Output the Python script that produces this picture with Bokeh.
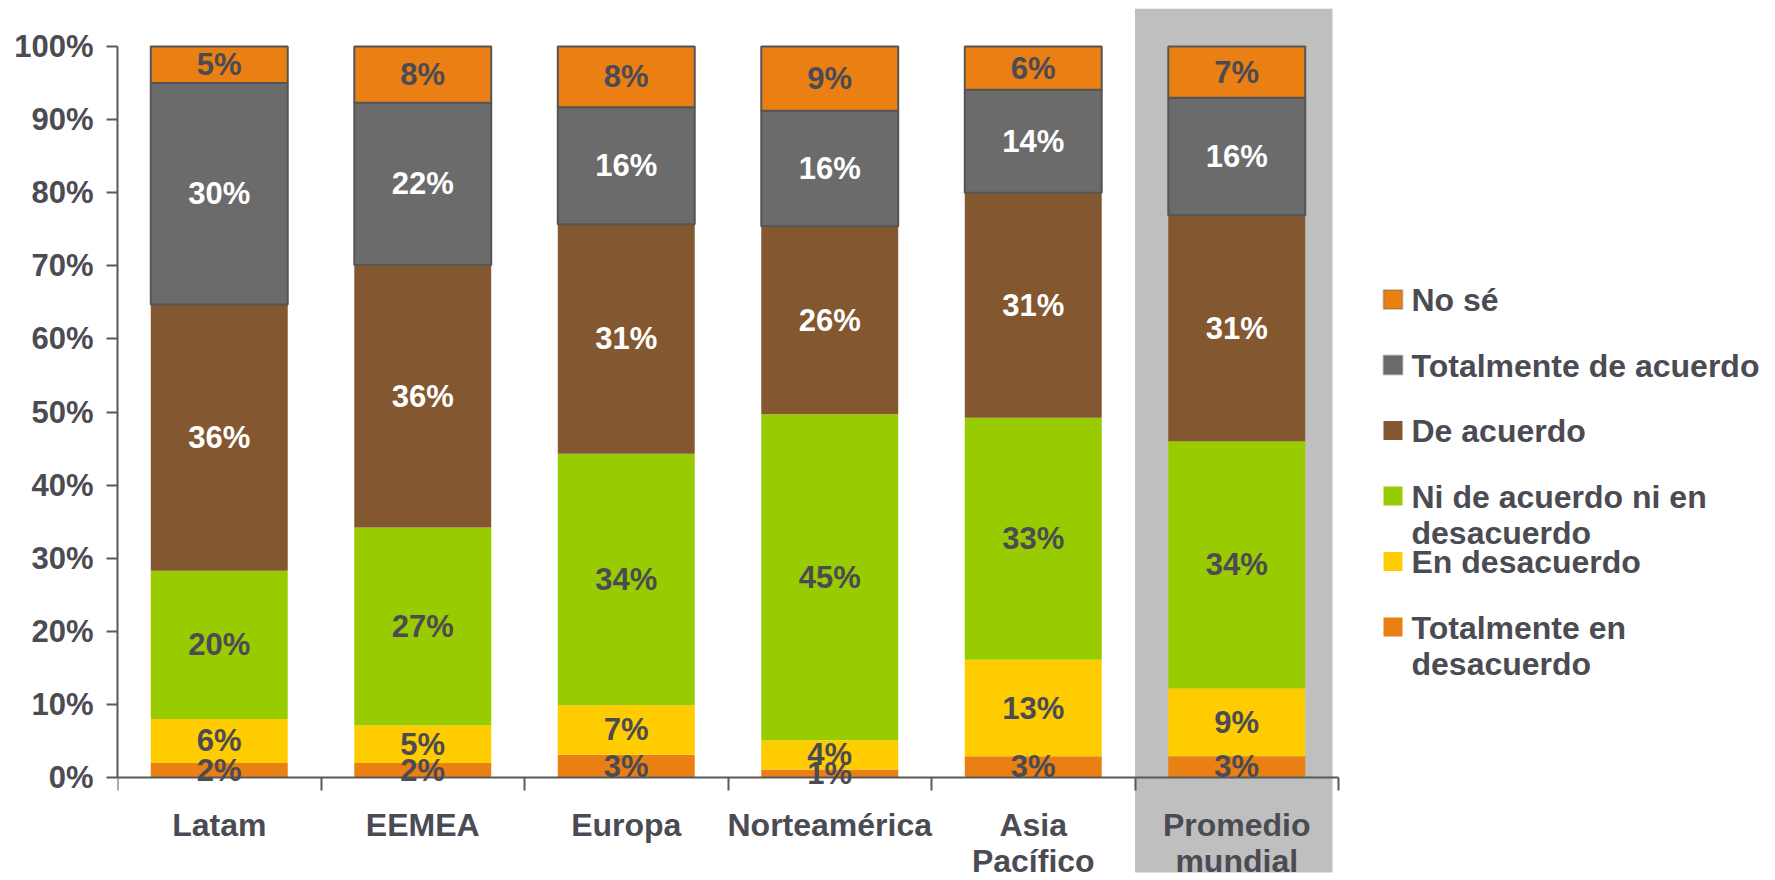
from bokeh.plotting import figure
from bokeh.models import (Range1d, FixedTicker, PrintfTickFormatter, ColumnDataSource,
                          LabelSet, BoxAnnotation, Label, LinearAxis)
from bokeh.core.properties import value
from bokeh.embed import file_html
from bokeh.resources import INLINE

# ---------------- data ----------------
categories = ["Latam", "EEMEA", "Europa", "Norteamérica", "Asia\nPacífico", "Promedio\nmundial"]
series = ["Totalmente en desacuerdo", "En desacuerdo", "Ni de acuerdo ni en desacuerdo",
          "De acuerdo", "Totalmente de acuerdo", "No sé"]
legend_labels = ["Totalmente en\ndesacuerdo", "En desacuerdo", "Ni de acuerdo ni en\ndesacuerdo",
                 "De acuerdo", "Totalmente de acuerdo", "No sé"]
totalmente_en_desacuerdo = [2.0, 2.0, 3.1, 1.1, 2.9, 2.9]
en_desacuerdo = [6.0, 5.1, 6.8, 4.0, 13.2, 9.3]
ni_de_acuerdo_ni_en_desacuerdo = [20.3, 27.1, 34.4, 44.6, 33.1, 33.8]
de_acuerdo = [36.4, 35.9, 31.4, 25.7, 30.8, 30.9]
totalmente_de_acuerdo = [30.3, 22.2, 16.0, 15.8, 14.1, 16.1]
no_se = [5.0, 7.7, 8.3, 8.8, 5.9, 7.0]
y_ticks = [0, 10, 20, 30, 40, 50, 60, 70, 80, 90, 100]
highlight_category = "Promedio\nmundial"

values = [totalmente_en_desacuerdo, en_desacuerdo, ni_de_acuerdo_ni_en_desacuerdo,
          de_acuerdo, totalmente_de_acuerdo, no_se]

# ---------------- styles ----------------
colors = ["#EA7F14", "#FFCC00", "#99CC00", "#83572F", "#6B6B6B", "#EA7F14"]
outlines = [None, None, None, None, "#555555", "#555555"]
text_dark = "#4B4B53"
label_colors = [text_dark, text_dark, text_dark, "#FFFFFF", "#FFFFFF", text_dark]
FONT = "Liberation Sans"

W, H = 1775, 880
# layout in page pixels
F_LEFT, F_TOP = 117, 8
AX_RIGHT = 1338          # right end of the category axis
ZERO_Y, HUNDRED_Y = 777, 46
px_x = (AX_RIGHT - F_LEFT) / len(categories)
px_y = (ZERO_Y - HUNDRED_Y) / 100.0
def dx(rx):
    return (rx - F_LEFT) / px_x
def dy(ry):
    return (ZERO_Y - ry) / px_y

p = figure(width=W, height=H, x_range=Range1d(0, dx(W)), y_range=Range1d(dy(H), dy(F_TOP)),
           output_backend="svg", toolbar_location=None, x_axis_location=None,
           y_axis_location=None,
           min_border_left=F_LEFT, min_border_right=0, min_border_top=F_TOP, min_border_bottom=0)
p.outline_line_color = None
p.grid.grid_line_color = None
p.background_fill_color = "white"
p.border_fill_color = "white"

# highlight box behind the world-average bar
hi = categories.index(highlight_category)
p.add_layout(BoxAnnotation(left=hi, right=dx(1332), top=dy(8), bottom=dy(872),
                           fill_color="#BFBFBF", fill_alpha=1.0, line_color=None,
                           level="underlay"))

# stacked bars
xs = [i + 0.5 for i in range(len(categories))]
data = {"x": xs}
for name, vals in zip(series, values):
    data[name] = vals
src = ColumnDataSource(data)
p.vbar_stack(series, x="x", width=0.673, source=src, color=colors,
             line_color=outlines, line_width=2)

# segment labels
lx, ly, lt, lc = [], [], [], []
for ci in range(len(categories)):
    base = 0.0
    for si, vals in enumerate(values):
        v = vals[ci]
        lx.append(xs[ci])
        ly.append(base + v / 2.0)
        lt.append("%d%%" % int(round(v)))
        lc.append(label_colors[si])
        base += v
lsrc = ColumnDataSource(dict(x=lx, y=ly, t=lt, c=lc))
p.add_layout(LabelSet(x="x", y="y", text="t", source=lsrc, text_color="c",
                      text_font=value(FONT), text_font_size="31px", text_font_style="bold",
                      text_align="center", text_baseline="middle"))

# category axis: line + boundary ticks at y = 0
ax = LinearAxis(fixed_location=0, bounds=(0, len(categories)))
ax.ticker = FixedTicker(ticks=[], minor_ticks=list(range(len(categories) + 1)))
ax.major_tick_out = 0
ax.major_tick_in = 0
ax.minor_tick_out = 0
ax.minor_tick_in = 13
ax.minor_tick_line_color = "#595959"
ax.minor_tick_line_width = 2
ax.axis_line_color = "#595959"
ax.axis_line_width = 2
ax.major_label_standoff = 0
ax.major_label_text_font_size = "0px"
p.add_layout(ax, "above")

# category names under the axis
cx, cy, ct = [], [], []
for ci, cat in enumerate(categories):
    for li, line in enumerate(cat.split("\n")):
        cx.append(xs[ci])
        cy.append(dy(824 + 36 * li))
        ct.append(line)
csrc = ColumnDataSource(dict(x=cx, y=cy, t=ct))
p.add_layout(LabelSet(x="x", y="y", text="t", source=csrc, text_color=text_dark,
                      text_font=value(FONT), text_font_size="32px", text_font_style="bold",
                      text_align="center", text_baseline="middle"))

# value axis
ay = LinearAxis(bounds=(0, 100))
ay.ticker = FixedTicker(ticks=y_ticks, minor_ticks=[])
ay.formatter = PrintfTickFormatter(format="%d%%")
ay.major_tick_out = 11
ay.major_tick_in = 0
ay.minor_tick_out = 0
ay.major_tick_line_color = "#595959"
ay.major_tick_line_width = 2
ay.axis_line_color = "#595959"
ay.axis_line_width = 2
ay.major_label_text_font = FONT
ay.major_label_text_font_size = "31px"
ay.major_label_text_font_style = "bold"
ay.major_label_text_color = text_dark
ay.major_label_standoff = 13
p.add_layout(ay, "left")

# legend (drawn manually, top to bottom)
for i, si in enumerate(reversed(range(len(series)))):
    top = 289.5 + 65.5 * i
    p.add_layout(BoxAnnotation(left=dx(1383), right=dx(1402), top=dy(top), bottom=dy(top + 19),
                               fill_color=colors[si], fill_alpha=1.0,
                               line_color=outlines[si] if outlines[si] else None, line_width=2))
    for li, line in enumerate(legend_labels[si].split("\n")):
        p.add_layout(Label(x=dx(1411), y=dy(top + 10 + 36.7 * li), text=line,
                           text_font=FONT, text_font_size="32px", text_font_style="bold",
                           text_color=text_dark, text_align="left", text_baseline="middle"))

open("out.html", "w").write(file_html(p, INLINE))
